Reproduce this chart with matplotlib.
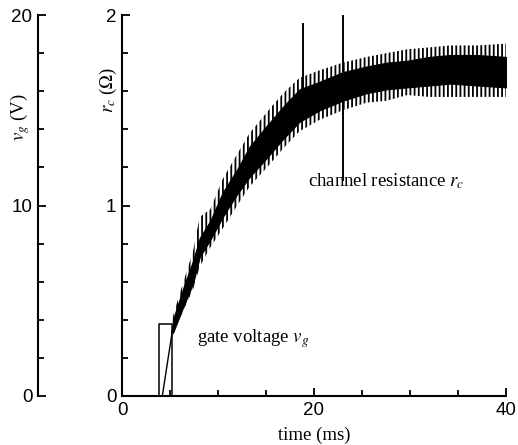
import matplotlib
matplotlib.use("Agg")
import matplotlib.pyplot as plt
from matplotlib.ticker import MultipleLocator

# ---- data ----
# gate voltage pulse (ms, V)
gate_t = [3.85, 3.85, 5.2, 5.2]
gate_v = [0.0, 3.8, 3.8, 0.0]

# initial ramp of channel resistance (ms, ohm)
ramp_t = [4.2, 5.3]
ramp_r = [0.0, 0.36]

# channel resistance noisy band: envelope times (ms)
t_env = [5.3, 6.4, 7.4, 8.1, 9.2, 10.5, 12.0, 13.3, 15.1, 16.8, 18.5, 20.6,
         23.0, 25.5, 27.6, 29.7, 32.0, 34.2, 37.0, 40.0]
core_lo = [0.33, 0.47, 0.59, 0.73, 0.82, 0.94, 1.06, 1.15, 1.25, 1.35, 1.44, 1.50,
           1.55, 1.59, 1.61, 1.62, 1.63, 1.64, 1.63, 1.62]
core_hi = [0.40, 0.57, 0.71, 0.83, 0.92, 1.07, 1.19, 1.31, 1.42, 1.52, 1.61, 1.65,
           1.70, 1.73, 1.75, 1.76, 1.78, 1.79, 1.79, 1.78]
hair_lo = [0.33, 0.45, 0.56, 0.68, 0.78, 0.88, 1.00, 1.10, 1.20, 1.30, 1.39, 1.45,
           1.50, 1.54, 1.55, 1.58, 1.57, 1.57, 1.57, 1.57]
hair_hi = [0.42, 0.60, 0.76, 0.94, 0.98, 1.14, 1.27, 1.38, 1.49, 1.59, 1.67, 1.71,
           1.75, 1.78, 1.80, 1.82, 1.83, 1.84, 1.84, 1.85]

# isolated spikes (ms, ohm)
spike_t = [18.9, 23.0]
spike_lo = [1.50, 1.13]
spike_hi = [1.96, 2.00]

x_ticks = [0, 20, 40]
r_ticks = [0, 1, 2]
v_ticks = [0, 10, 20]

# ---- figure ----
plt.rcParams['mathtext.fontset'] = 'stix'
plt.rcParams['hatch.linewidth'] = 1.3
W, H = 518, 445
fig = plt.figure(figsize=(W / 100, H / 100), dpi=100)

tick_family = 'Liberation Sans'
tick_size = 13.5
serif = 'Liberation Serif'
lab_size = 13.5

bottom = 1 - 396 / H
height = (396 - 15) / H

ax = fig.add_axes([122 / W, bottom, (506 - 122) / W, height])
axv = fig.add_axes([38 / W, bottom, 0.01, height])

# main axes
ax.fill_between(t_env, hair_lo, hair_hi, facecolor='none', edgecolor='black',
                hatch='||||', linewidth=0)
ax.fill_between(t_env, core_lo, core_hi, color='black', linewidth=0.8)
ax.plot(ramp_t, ramp_r, color='black', lw=1.0)
ax.vlines(spike_t, spike_lo, spike_hi, color='black', lw=1.4)
# gate voltage drawn on the shared vertical scale (V/10 = ohm)
ax.plot(gate_t, [v / 10 for v in gate_v], color='black', lw=1.1)

ax.set_xlim(0, 40)
ax.set_ylim(0, 2)
for s in ['top', 'right']:
    ax.spines[s].set_visible(False)
for s in ['left', 'bottom']:
    ax.spines[s].set_linewidth(1.5)
ax.set_xticks(x_ticks)
ax.set_yticks(r_ticks)
ax.xaxis.set_minor_locator(MultipleLocator(5))
ax.yaxis.set_minor_locator(MultipleLocator(0.2))
ax.tick_params(which='both', direction='in', width=1.3)
ax.tick_params(which='major', length=6, pad=4)
ax.tick_params(which='minor', length=4)
for lab in ax.get_xticklabels() + ax.get_yticklabels():
    lab.set_fontfamily(tick_family)
    lab.set_fontsize(tick_size)
ax.set_xlabel('time (ms)', family=serif, fontsize=lab_size, labelpad=6)

ax.text(7.8, 0.30, r'gate voltage $v_g$', family=serif, fontsize=lab_size,
        va='center')
ax.text(19.4, 1.13, r'channel resistance $r_c$', family=serif, fontsize=lab_size,
        va='center')

# left voltage axis
axv.set_ylim(0, 20)
axv.set_xlim(0, 1)
for s in ['top', 'right', 'bottom']:
    axv.spines[s].set_visible(False)
axv.spines['left'].set_linewidth(1.5)
axv.set_xticks([])
axv.set_yticks(v_ticks)
axv.yaxis.set_minor_locator(MultipleLocator(2))
axv.tick_params(which='both', direction='in', width=1.3, right=False)
axv.tick_params(which='major', length=6, pad=4)
axv.tick_params(which='minor', length=4)
axv.patch.set_visible(False)
for lab in axv.get_yticklabels():
    lab.set_fontfamily(tick_family)
    lab.set_fontsize(tick_size)

fig.text(108 / W, 1 - 90 / H, r'$r_c$ ($\Omega$)', family=serif, fontsize=lab_size,
         rotation=90, ha='center', va='center')
fig.text(20 / W, 1 - 117 / H, r'$v_g$ (V)', family=serif, fontsize=lab_size,
         rotation=90, ha='center', va='center')

fig.savefig('out.png', dpi=100)
